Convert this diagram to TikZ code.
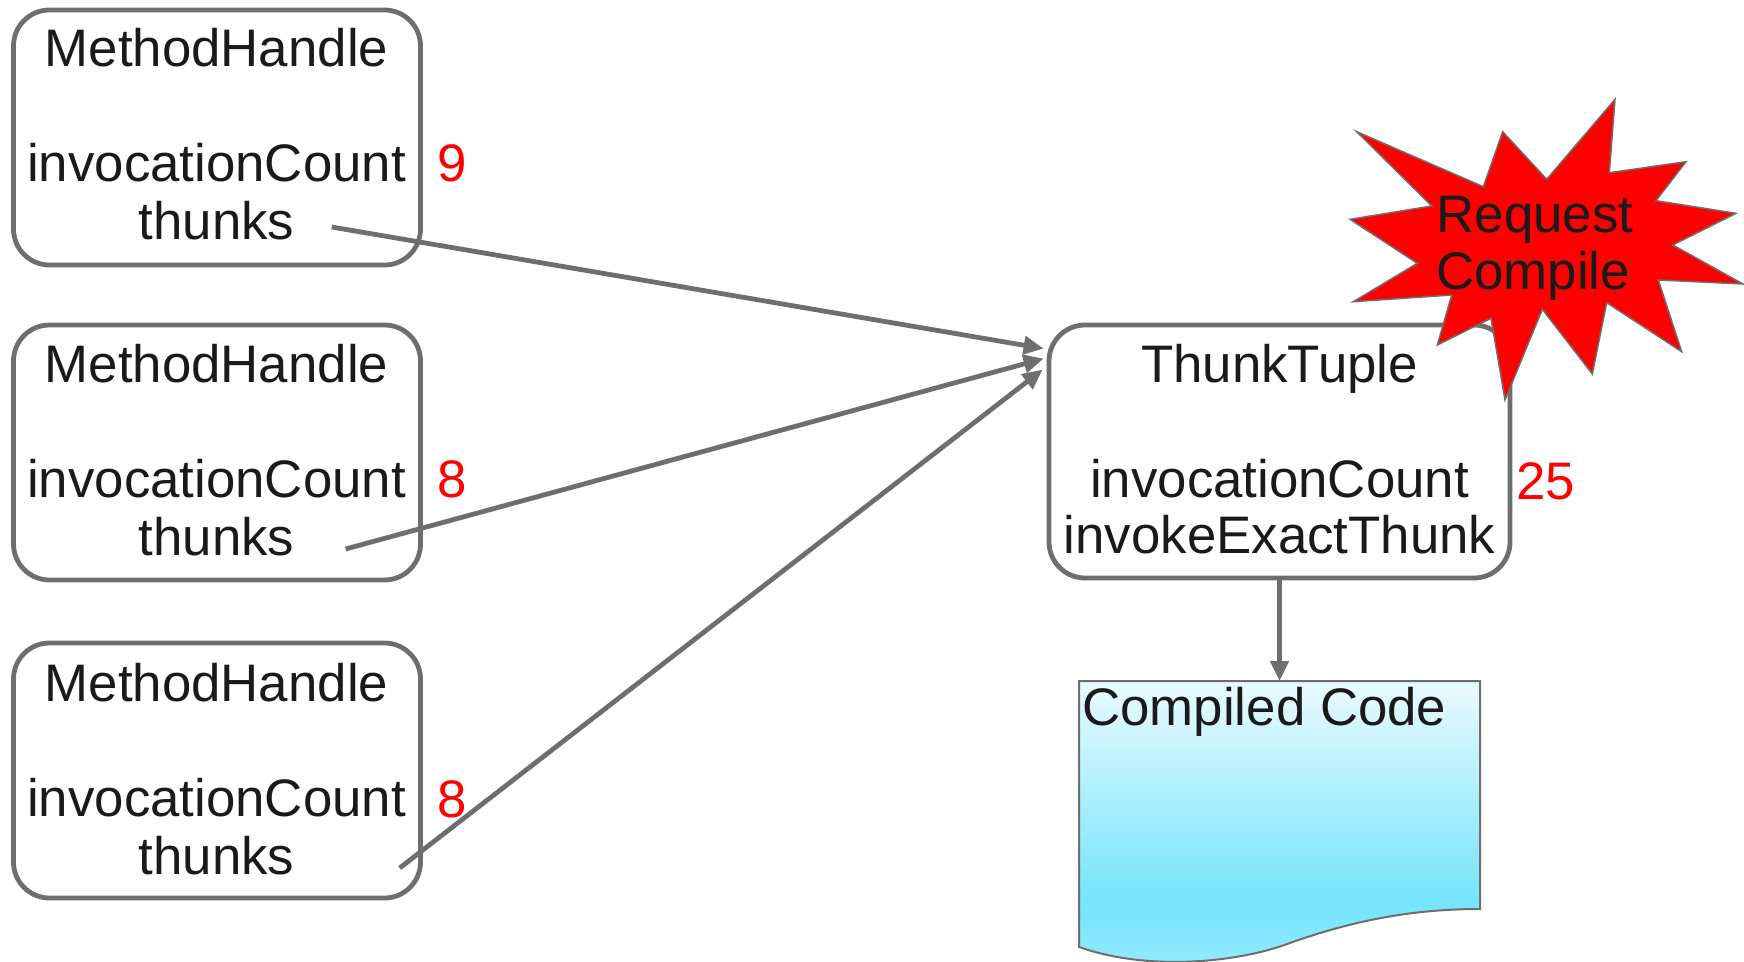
\documentclass[tikz,border=0pt]{standalone}
\usepackage{fontspec}
\setmainfont{Liberation Sans}
\usetikzlibrary{arrows.meta,calc}

\definecolor{edgegray}{RGB}{110,110,110}
\definecolor{inkdark}{RGB}{26,26,26}
\definecolor{countred}{RGB}{255,0,0}
\definecolor{cctop}{RGB}{234,250,254}
\definecolor{ccmid}{RGB}{116,228,252}
\definecolor{ccbot}{RGB}{150,235,253}

% code sheet fill: pale at the top, deepest cyan near the wavy hem
\pgfdeclareverticalshading{codesheet}{100bp}{%
  color(0bp)=(ccbot); color(25bp)=(ccbot); color(37bp)=(ccmid);
  color(75bp)=(cctop); color(100bp)=(cctop)}

\tikzset{
  objbox/.style={draw=edgegray, line width=2.4pt, rounded corners=18pt,
    minimum width=203.5pt, minimum height=127.5pt, inner sep=0pt},
  tuplebox/.style={objbox, minimum width=230.5pt, minimum height=126.5pt},
  field/.style={inner sep=0pt, anchor=base, text=inkdark,
    font=\fontsize{26.4}{31}\selectfont},
  count/.style={inner sep=0pt, anchor=base west, text=countred,
    font=\fontsize{26.4}{31}\selectfont},
  link/.style={draw=edgegray, line width=2.4pt,
    -{Triangle[length=10pt,width=9pt]}},
}

\begin{document}
\begin{tikzpicture}[x=0.5pt,y=-0.5pt]
\useasboundingbox (0,0) rectangle (1744,962);

% three method handles
\node[objbox] (mh1) at (217,137.5) {};
\node[objbox] (mh2) at (217,452.5) {};
\node[objbox] (mh3) at (217,770.5) {};

\node[field] (mh1a) at (216.5,67)  {MethodHandle};
\node[field] (mh1b) at (216.5,182) {invocationCount};
\node[field] (mh1c) at (216.5,240) {thunks};
\node[count] (n1)   at (437,182)   {9};

\node[field] (mh2a) at (216.5,382) {MethodHandle};
\node[field] (mh2b) at (216.5,497) {invocationCount};
\node[field] (mh2c) at (216.5,555) {thunks};
\node[count] (n2)   at (437,497)   {8};

\node[field] (mh3a) at (216.5,701) {MethodHandle};
\node[field] (mh3b) at (216.5,816) {invocationCount};
\node[field] (mh3c) at (216.5,874) {thunks};
\node[count] (n3)   at (437,817)   {8};

% shared thunk tuple
\node[tuplebox] (tt) at (1279.5,451.5) {};
\node[field] (tta) at (1279.5,382) {ThunkTuple};
\node[field] (ttb) at (1279.5,497) {invocationCount};
\node[field] (ttc) at (1279.5,553) {invokeExactThunk};
\node[count] (n4)  at (1516,499)   {25};

% compiled code sheet
\shade[shading=codesheet, draw=edgegray, line width=1pt]
  (1079,681) -- (1480,681) -- (1480,909)
  .. controls (1420,909) and (1360,918) .. (1290,943)
  .. controls (1240,962) and (1150,972) .. (1079,947) -- cycle;
\coordinate (cctop) at (1279.5,681);
\node[inner sep=0pt, anchor=base west, text=inkdark,
  font=\fontsize{26.4}{31}\selectfont] (cc) at (1082,725) {Compiled Code};

% thunk references
\coordinate (t1) at ($(mh1c.base east)+(37,-13)$);
\coordinate (t2) at ($(mh2c.base east)+(51,-6)$);
\coordinate (t3) at ($(mh3c.base east)+(105,-6)$);
\draw[link] (t1) -- ($(tt.north west)+(-3,26)$);
\draw[link] (t2) -- ($(tt.north west)+(-3,36)$);
\draw[link] (t3) -- ($(tt.north west)+(-4,47)$);
\draw[link] (tt.south) -- (cctop);

% compile request burst
\filldraw[fill=countred, draw=edgegray, line width=0.75pt]
  (1356.7,131.7) -- (1483.3,186.7) -- (1502.7,131.7) -- (1546.7,179.3)
  -- (1615,99.3) -- (1609.3,172.7) -- (1686,161.7) -- (1656,200.7)
  -- (1736,213.3) -- (1672.7,245) -- (1743,284) -- (1658.3,280)
  -- (1681.7,351.7) -- (1606.7,302.7) -- (1592.3,374) -- (1542.3,309.3)
  -- (1505,400) -- (1491,318.3) -- (1437.3,345) -- (1451.7,295)
  -- (1353.3,301.7) -- (1417.3,263.3) -- (1350,219.3) -- (1431.7,206)
  -- cycle;
\node[field] (rq1) at (1535,233) {Request};
\node[field] (rq2) at (1533,290) {Compile};
\end{tikzpicture}
\end{document}
